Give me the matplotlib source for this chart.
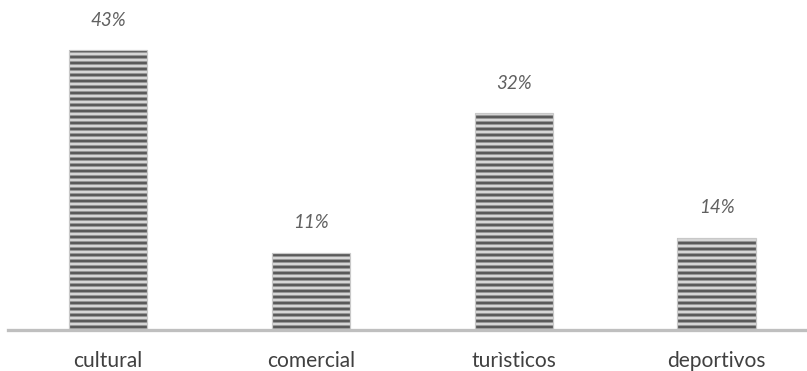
import matplotlib.pyplot as plt
import numpy as np

categories = ['cultural', 'comercial', 'turìsticos', 'deportivos']
values = [43, 11.9, 33.3, 14.2]
labels = ['43%', '11%', '32%', '14%']

DPI = 108  # hatch cell = 108 px -> 18 stripes = 6 px period
plt.rcParams['font.family'] = ['Lato', 'DejaVu Sans']
plt.rcParams['hatch.linewidth'] = 2.0
plt.rcParams['hatch.color'] = '#5a5a5a'

fig = plt.figure(figsize=(807 / DPI, 371 / DPI), dpi=DPI)
ax = fig.add_axes([8 / 807, 41 / 371, 799 / 807, 330 / 371])

x = np.arange(len(categories))
ax.bar(x, values, width=0.385, color='#d6d6d6', hatch='---',
       edgecolor='#5a5a5a', linewidth=0, zorder=2)
# soft light border like the original
ax.bar(x, values, width=0.385, fill=False, edgecolor='#c8c8c8', linewidth=0.8, zorder=3)

for xi, v, lab in zip(x, values, labels):
    ax.text(xi, v + 4.6, lab, ha='center', va='center', fontsize=12.5,
            style='italic', color='#606060')

ax.set_xlim(-0.493, 3.446)
ax.set_ylim(0, 50.7)
ax.set_xticks(x)
ax.set_xticklabels(categories, fontsize=14, color='#404040')
ax.tick_params(axis='x', length=0, pad=14)
ax.set_yticks([])
for s in ['top', 'left', 'right']:
    ax.spines[s].set_visible(False)
ax.spines['bottom'].set_color('#bfbfbf')
ax.spines['bottom'].set_linewidth(2.2)
ax.spines['bottom'].set_zorder(4)

fig.savefig('out.png', dpi=DPI)
